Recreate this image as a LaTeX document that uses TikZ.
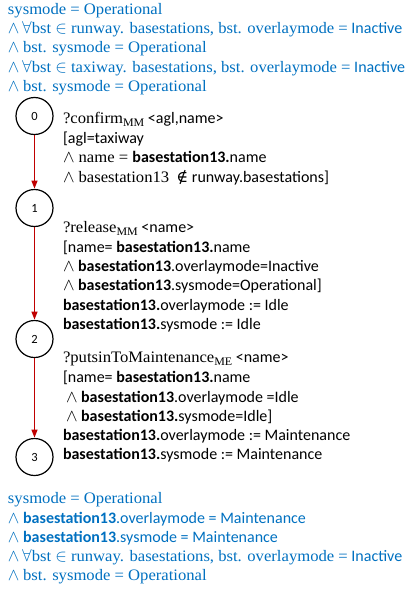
\documentclass[tikz,border=0pt]{standalone}
\usepackage{fontspec}
\setmainfont{Carlito}
\newfontfamily\cam[FakeStretch=1.04]{Liberation Serif}
\newfontfamily\symf{DejaVu Serif}
\usetikzlibrary{arrows.meta}
\definecolor{specblue}{HTML}{0070C0}
\definecolor{flowred}{HTML}{C00000}
\newcommand{\lnd}{\ensuremath{\wedge}}
\newcommand{\bs}{\textbf{basestation13}}
\newcommand{\sub}[1]{\raisebox{-3.5pt}{\fontsize{11.5pt}{13pt}\selectfont #1}}
\tikzset{
  x=1pt, y=1pt,
  line/.style={anchor=base west, inner sep=0pt, outer sep=0pt,
    font=\fontsize{16pt}{19.5pt}\selectfont},
  cond/.style={line, text=specblue},
  state/.style={circle, draw=black, line width=1.2pt, minimum size=37pt,
    inner sep=0pt, font=\fontsize{12.5pt}{14pt}\selectfont},
  flow/.style={draw=flowred, line width=1.3pt,
    -{Triangle[length=8pt,width=6pt]}, shorten >=0.3pt},
}
\begin{document}
\begin{tikzpicture}
\useasboundingbox (0,0) rectangle (412,-589);

% initial condition
\node[cond] (pre1) at (8,-14) {\cam sysmode = Operational};
\node[cond] (pre2) at (8,-33) {\lnd\,$\forall${\cam bst $\in$ runway. basestations, bst. overlaymode =} Inactive};
\node[cond] (pre3) at (8,-52) {\lnd\ {\cam bst. sysmode = Operational}};
\node[cond] (pre4) at (8,-72) {\lnd\,$\forall${\cam bst $\in$ taxiway. basestations, bst. overlaymode =} Inactive};
\node[cond] (pre5) at (8,-91) {\lnd\ {\cam bst. sysmode = Operational}};

% states
\node[state] (s0) at (34.5,-116) {0};
\node[state] (s1) at (34.5,-208) {1};
\node[state] (s2) at (34.5,-339) {2};
\node[state] (s3) at (34.5,-457) {3};

\draw[flow] (s0) -- (s1);
\draw[flow] (s1) -- (s2);
\draw[flow] (s2) -- (s3);

% transition 0 -> 1
\node[line] (a1) at (63,-123) {{\cam ?confirm\sub{MM}} <agl,name>};
\node[line] (a2) at (63,-143) {[agl=taxiway};
\node[line] (a3) at (63,-162) {{\cam \lnd\ name = }\textbf{basestation13.}name};
\node[line] (a4) at (63,-182) {{\cam \lnd\ basestation13}\ \ {\symf ∉} runway.basestations]};

% transition 1 -> 2
\node[line] (b1) at (63,-232) {{\cam ?release\sub{MM}} <name>};
\node[line] (b2) at (63,-252) {[name= \textbf{basestation13.}name};
\node[line] (b3) at (63,-271) {\lnd\ \bs.overlaymode=Inactive};
\node[line] (b4) at (63,-290) {\lnd\ \bs.sysmode=Operational]};
\node[line] (b5) at (63,-310) {\textbf{basestation13.}overlaymode := Idle};
\node[line] (b6) at (63,-329) {\textbf{basestation13.}sysmode := Idle};

% transition 2 -> 3
\node[line] (c1) at (63,-362) {{\cam ?putsinToMaintenance\sub{ME}} <name>};
\node[line] (c2) at (63,-382) {[name= \textbf{basestation13.}name};
\node[line] (c3) at (66,-402) {\lnd\ \bs.overlaymode =Idle};
\node[line] (c4) at (66,-421) {\lnd\ \textbf{basestation13.}sysmode=Idle]};
\node[line] (c5) at (63,-440) {\textbf{basestation13.}overlaymode := Maintenance};
\node[line] (c6) at (63,-459) {\textbf{basestation13.}sysmode := Maintenance};

% resulting condition
\node[cond] (post1) at (8,-503) {\cam sysmode = Operational};
\node[cond] (post2) at (8,-523) {\lnd\ \bs.overlaymode = Maintenance};
\node[cond] (post3) at (8,-542) {\lnd\ \bs.sysmode = Maintenance};
\node[cond] (post4) at (8,-561) {\lnd\,$\forall${\cam bst $\in$ runway. basestations, bst. overlaymode =} Inactive};
\node[cond] (post5) at (8,-580) {\lnd\ {\cam bst. sysmode = Operational}};
\end{tikzpicture}
\end{document}
